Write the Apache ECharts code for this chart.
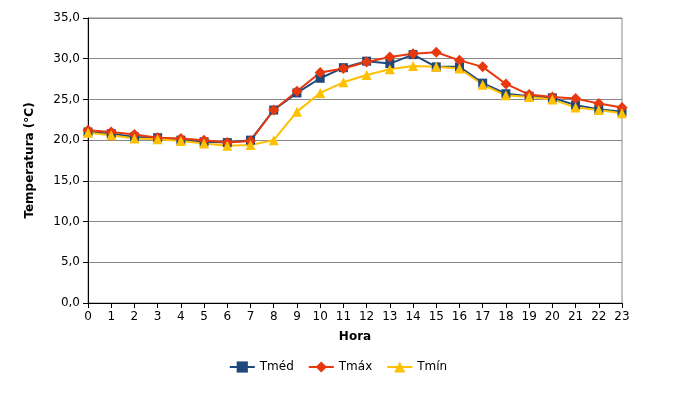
<!DOCTYPE html><html><head><meta charset="utf-8"><script src="https://cdn.jsdelivr.net/npm/echarts@6/dist/echarts.min.js"></script></head><body style="margin:0"><div id="c" style="width:676px;height:400px"></div><script>
const hours=['0','1','2','3','4','5','6','7','8','9','10','11','12','13','14','15','16','17','18','19','20','21','22','23'];
const tmed=[21.0,20.8,20.4,20.3,20.0,19.8,19.7,20.0,23.7,25.8,27.6,28.9,29.7,29.4,30.5,29.0,29.0,27.0,25.7,25.4,25.2,24.3,23.8,23.5];
const tmax=[21.2,21.0,20.7,20.3,20.2,20.0,19.7,19.9,23.7,26.0,28.3,28.8,29.6,30.2,30.6,30.8,29.8,29.0,26.9,25.6,25.3,25.1,24.5,24.0];
const tmin=[20.9,20.6,20.2,20.1,19.9,19.6,19.3,19.4,20.0,23.5,25.8,27.1,28.0,28.7,29.1,29.0,28.8,26.8,25.5,25.3,25.0,24.0,23.7,23.3];
const f='Verdana, DejaVu Sans, sans-serif';
const ch=echarts.init(document.getElementById('c'));
ch.setOption({animation:false,
grid:{left:88,right:54,top:18,bottom:97,show:true,borderColor:'#888',borderWidth:1},
legend:{bottom:22,itemGap:14,textStyle:{fontFamily:f,fontSize:12,color:'#000'},data:['Tméd','Tmáx','Tmín']},
xAxis:{type:'category',data:hours,boundaryGap:false,name:'Hora',nameLocation:'middle',nameGap:28,nameTextStyle:{fontFamily:f,fontWeight:'bold',fontSize:12,color:'#000'},axisLine:{lineStyle:{color:'#000'}},axisTick:{show:true,alignWithLabel:true,lineStyle:{color:'#000'}},axisLabel:{fontFamily:f,fontSize:12,color:'#000'}},
yAxis:{type:'value',min:0,max:35,interval:5,name:'Temperatura (°C)',nameLocation:'middle',nameGap:52,nameTextStyle:{fontFamily:f,fontWeight:'bold',fontSize:12,color:'#000'},axisLine:{show:true,lineStyle:{color:'#000'}},axisTick:{show:true,lineStyle:{color:'#000'}},axisLabel:{fontFamily:f,fontSize:12,color:'#000',formatter:v=>v.toFixed(1).replace('.',',')},splitLine:{lineStyle:{color:'#888'}}},
series:[
{name:'Tméd',type:'line',data:tmed,symbol:'rect',symbolSize:9,itemStyle:{color:'#1F497D'},lineStyle:{color:'#1F497D',width:2}},
{name:'Tmáx',type:'line',data:tmax,symbol:'diamond',symbolSize:11,itemStyle:{color:'#E8380D'},lineStyle:{color:'#E8380D',width:2}},
{name:'Tmín',type:'line',data:tmin,symbol:'triangle',symbolSize:10,itemStyle:{color:'#FFC000'},lineStyle:{color:'#FFC000',width:2}}
]});
</script></body></html>
